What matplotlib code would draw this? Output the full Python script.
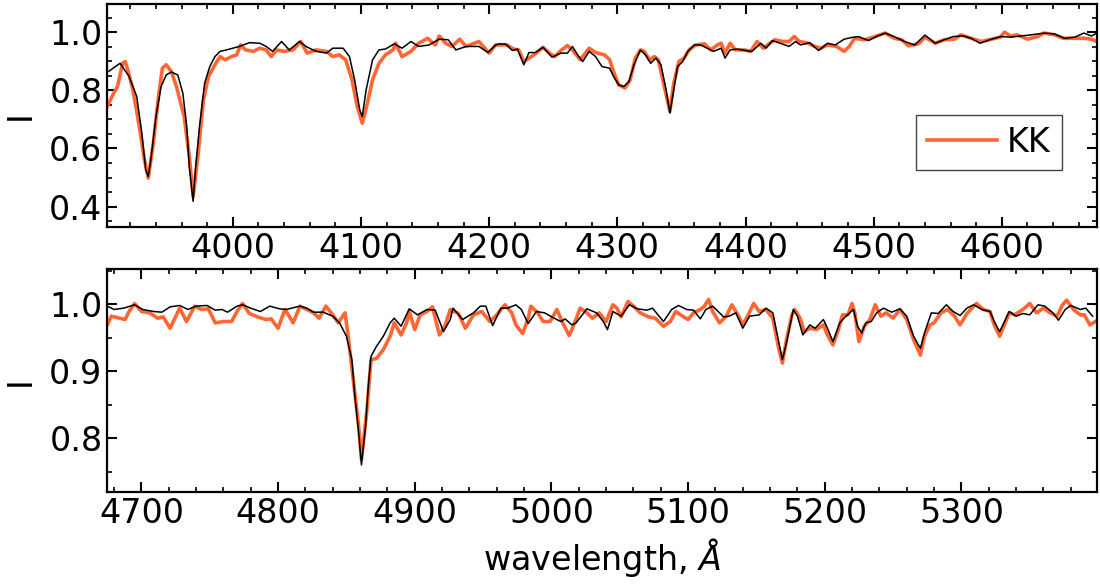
import numpy as np
import matplotlib
matplotlib.use("Agg")
import matplotlib.pyplot as plt
from matplotlib.ticker import MultipleLocator

# ---------------- data ----------------
# upper panel: model (black)
model_wl_1 = [3903, 3912, 3919, 3925, 3929, 3932, 3934, 3936, 3940, 3944, 3948, 3952, 3957, 3961,
              3964, 3966, 3969, 3971, 3974, 3978, 3982, 3986, 3990, 3995, 4000, 4005, 4013, 4021,
              4026, 4031, 4038, 4044, 4052, 4057, 4065, 4073, 4078, 4086, 4091, 4095, 4099, 4101,
              4104, 4109, 4114, 4119, 4126, 4132, 4139, 4145, 4153, 4161, 4168, 4174, 4182, 4192,
              4199, 4205, 4208, 4213, 4218, 4222, 4227, 4231, 4236, 4242, 4245, 4249, 4256, 4261,
              4265, 4269, 4273, 4278, 4283, 4288, 4294, 4297, 4301, 4305, 4309, 4313, 4318, 4322,
              4326, 4330, 4334, 4338, 4341, 4344, 4347, 4351, 4355, 4360, 4365, 4370, 4375, 4381,
              4384, 4388, 4393, 4400, 4405, 4412, 4416, 4421, 4427, 4434, 4439, 4443, 4450, 4457,
              4464, 4470, 4477, 4483, 4488, 4496, 4503, 4509, 4516, 4524, 4532, 4540, 4548, 4555,
              4562, 4570, 4576, 4583, 4592, 4599, 4607, 4615, 4623, 4633, 4641, 4649, 4657, 4664,
              4670, 4674]
model_fl_1 = [0.865, 0.893, 0.848, 0.779, 0.653, 0.527, 0.504, 0.561, 0.710, 0.813, 0.853, 0.863, 0.853, 0.790,
              0.676, 0.538, 0.418, 0.538, 0.676, 0.825, 0.882, 0.916, 0.934, 0.939, 0.945, 0.951, 0.964, 0.962,
              0.951, 0.934, 0.968, 0.939, 0.968, 0.951, 0.934, 0.928, 0.945, 0.945, 0.916, 0.836, 0.733, 0.710,
              0.802, 0.905, 0.939, 0.942, 0.960, 0.945, 0.968, 0.951, 0.956, 0.976, 0.974, 0.939, 0.951, 0.951,
              0.930, 0.956, 0.960, 0.959, 0.937, 0.942, 0.888, 0.930, 0.930, 0.948, 0.934, 0.914, 0.928, 0.928,
              0.951, 0.922, 0.899, 0.934, 0.916, 0.882, 0.876, 0.848, 0.819, 0.813, 0.830, 0.888, 0.939, 0.922,
              0.893, 0.911, 0.888, 0.802, 0.722, 0.802, 0.882, 0.899, 0.934, 0.956, 0.956, 0.945, 0.934, 0.945,
              0.911, 0.939, 0.942, 0.937, 0.934, 0.962, 0.945, 0.971, 0.962, 0.951, 0.968, 0.956, 0.964, 0.937,
              0.962, 0.956, 0.976, 0.982, 0.985, 0.971, 0.987, 0.997, 0.985, 0.968, 0.956, 0.990, 0.962, 0.974,
              0.985, 0.987, 0.979, 0.962, 0.976, 0.985, 0.983, 0.987, 0.991, 0.997, 0.994, 0.979, 0.983, 0.997,
              0.987, 0.997]

# upper panel: KK (orange)
kk_wl_1 = [3902, 3907, 3910, 3914, 3916, 3918, 3922, 3927, 3931, 3934, 3938, 3942, 3945, 3948, 3952,
           3956, 3958, 3962, 3966, 3969, 3973, 3977, 3981, 3986, 3990, 3994, 3999, 4003, 4006, 4010,
           4016, 4021, 4026, 4030, 4034, 4040, 4047, 4053, 4058, 4065, 4073, 4078, 4083, 4088, 4093,
           4097, 4101, 4105, 4109, 4114, 4119, 4125, 4127, 4132, 4139, 4145, 4152, 4158, 4161, 4166,
           4171, 4177, 4182, 4192, 4200, 4205, 4208, 4214, 4219, 4223, 4227, 4231, 4235, 4242, 4247,
           4251, 4256, 4261, 4265, 4271, 4278, 4283, 4290, 4294, 4297, 4301, 4306, 4310, 4314, 4318,
           4321, 4325, 4329, 4332, 4336, 4341, 4344, 4348, 4352, 4356, 4361, 4368, 4373, 4378, 4381,
           4384, 4388, 4392, 4399, 4404, 4409, 4414, 4419, 4423, 4429, 4434, 4438, 4442, 4449, 4454,
           4459, 4464, 4471, 4477, 4481, 4485, 4493, 4501, 4509, 4516, 4522, 4527, 4535, 4540, 4548,
           4555, 4563, 4568, 4576, 4584, 4592, 4599, 4602, 4607, 4612, 4620, 4628, 4633, 4641, 4648,
           4657, 4664, 4670, 4674]
kk_fl_1 = [0.745, 0.790, 0.813, 0.893, 0.899, 0.871, 0.802, 0.676, 0.561, 0.498, 0.619, 0.779, 0.876, 0.888, 0.865,
           0.813, 0.779, 0.710, 0.573, 0.435, 0.584, 0.767, 0.848, 0.888, 0.916, 0.905, 0.916, 0.922, 0.956, 0.939,
           0.934, 0.945, 0.939, 0.916, 0.939, 0.934, 0.939, 0.968, 0.928, 0.939, 0.934, 0.916, 0.922, 0.905, 0.836,
           0.745, 0.687, 0.756, 0.836, 0.893, 0.922, 0.939, 0.962, 0.916, 0.934, 0.962, 0.979, 0.956, 0.987, 0.962,
           0.951, 0.976, 0.951, 0.968, 0.928, 0.956, 0.956, 0.956, 0.942, 0.939, 0.899, 0.911, 0.922, 0.948, 0.928,
           0.916, 0.937, 0.954, 0.939, 0.905, 0.945, 0.930, 0.922, 0.905, 0.865, 0.819, 0.808, 0.836, 0.911, 0.939,
           0.934, 0.905, 0.916, 0.905, 0.825, 0.727, 0.825, 0.899, 0.911, 0.939, 0.956, 0.960, 0.939, 0.956, 0.962,
           0.928, 0.962, 0.939, 0.939, 0.934, 0.968, 0.945, 0.962, 0.974, 0.968, 0.968, 0.985, 0.968, 0.962, 0.951,
           0.945, 0.956, 0.951, 0.934, 0.951, 0.979, 0.974, 0.985, 0.997, 0.979, 0.974, 0.953, 0.960, 0.983, 0.962,
           0.974, 0.976, 0.991, 0.979, 0.968, 0.976, 0.983, 1.000, 0.987, 0.991, 0.976, 0.985, 0.997, 0.991, 0.979,
           0.979, 0.979, 0.976, 0.968]

# lower panel: model (black)
model_wl_2 = [4675, 4680, 4687, 4695, 4701, 4709, 4715, 4721, 4728, 4734, 4740, 4748, 4754, 4759, 4763,
              4770, 4774, 4780, 4787, 4794, 4801, 4806, 4816, 4821, 4826, 4833, 4840, 4845, 4850, 4854,
              4856, 4859, 4861, 4864, 4866, 4868, 4872, 4877, 4882, 4885, 4890, 4896, 4902, 4909, 4915,
              4921, 4926, 4928, 4935, 4943, 4948, 4952, 4957, 4963, 4968, 4974, 4978, 4983, 4989, 4995,
              5002, 5007, 5010, 5015, 5018, 5026, 5033, 5038, 5041, 5045, 5051, 5057, 5063, 5070, 5074,
              5082, 5088, 5093, 5099, 5104, 5109, 5113, 5118, 5126, 5130, 5135, 5140, 5145, 5152, 5157,
              5162, 5166, 5169, 5172, 5177, 5180, 5184, 5189, 5193, 5199, 5202, 5206, 5211, 5215, 5221,
              5224, 5227, 5230, 5234, 5238, 5243, 5249, 5255, 5260, 5265, 5270, 5273, 5278, 5283, 5289,
              5294, 5299, 5304, 5309, 5315, 5321, 5324, 5328, 5331, 5335, 5340, 5345, 5350, 5356, 5361,
              5367, 5371, 5376, 5380, 5387, 5391, 5396]
model_fl_2 = [0.997, 0.992, 0.994, 0.999, 0.992, 0.989, 0.988, 0.996, 0.998, 0.992, 0.997, 0.998, 0.991, 0.992, 0.988,
              0.997, 0.999, 0.994, 0.989, 0.997, 0.993, 0.992, 0.997, 0.994, 0.988, 0.988, 0.982, 0.972, 0.952, 0.917,
              0.867, 0.807, 0.760, 0.817, 0.877, 0.922, 0.937, 0.952, 0.972, 0.979, 0.967, 0.993, 0.984, 0.992, 0.991,
              0.959, 0.977, 0.994, 0.977, 0.987, 0.997, 0.997, 0.968, 0.994, 0.994, 0.999, 0.992, 0.971, 0.989, 0.987,
              0.979, 0.974, 0.978, 0.969, 0.972, 0.993, 0.987, 0.974, 0.962, 0.989, 0.982, 0.999, 0.993, 0.991, 0.994,
              0.974, 0.992, 0.998, 0.992, 0.991, 0.978, 0.992, 0.997, 0.981, 0.982, 0.987, 0.964, 0.982, 0.984, 0.994,
              0.987, 0.947, 0.917, 0.942, 0.992, 0.982, 0.954, 0.969, 0.964, 0.977, 0.964, 0.944, 0.972, 0.981, 0.992,
              0.967, 0.957, 0.972, 0.974, 0.987, 0.994, 0.988, 0.993, 0.982, 0.952, 0.934, 0.957, 0.987, 0.986, 0.999,
              0.989, 0.983, 0.994, 0.999, 0.992, 0.989, 0.974, 0.959, 0.972, 0.989, 0.982, 0.986, 0.984, 0.999, 0.997,
              0.987, 0.976, 0.992, 0.998, 0.992, 0.994, 0.982]

# lower panel: KK (orange)
kk_wl_2 = [4675, 4678, 4684, 4688, 4691, 4695, 4700, 4706, 4712, 4716, 4721, 4724, 4728, 4733, 4739,
           4744, 4749, 4754, 4760, 4766, 4770, 4774, 4779, 4785, 4791, 4795, 4800, 4805, 4809, 4811,
           4816, 4821, 4826, 4830, 4835, 4840, 4844, 4849, 4851, 4855, 4859, 4861, 4865, 4868, 4872,
           4877, 4882, 4885, 4890, 4894, 4896, 4900, 4904, 4909, 4913, 4918, 4922, 4926, 4932, 4937,
           4943, 4949, 4955, 4960, 4966, 4971, 4974, 4979, 4983, 4985, 4990, 4994, 4999, 5004, 5009,
           5013, 5017, 5021, 5026, 5030, 5035, 5040, 5045, 5048, 5051, 5056, 5060, 5065, 5071, 5076,
           5082, 5087, 5091, 5096, 5100, 5104, 5109, 5112, 5115, 5118, 5123, 5128, 5132, 5137, 5140,
           5144, 5148, 5152, 5157, 5162, 5166, 5169, 5172, 5176, 5178, 5182, 5185, 5189, 5194, 5199,
           5202, 5206, 5210, 5213, 5217, 5220, 5222, 5225, 5229, 5233, 5237, 5241, 5245, 5250, 5255,
           5260, 5265, 5270, 5273, 5277, 5280, 5285, 5290, 5295, 5299, 5304, 5311, 5316, 5321, 5324,
           5328, 5331, 5335, 5339, 5345, 5350, 5355, 5360, 5365, 5370, 5374, 5377, 5382, 5387, 5390,
           5394, 5398]
kk_fl_2 = [0.969, 0.982, 0.979, 0.977, 0.989, 1.001, 0.989, 0.987, 0.979, 0.981, 0.964, 0.977, 0.994, 0.974, 0.997,
           0.992, 0.993, 0.972, 0.974, 0.974, 0.989, 1.001, 0.986, 0.981, 0.977, 0.978, 0.964, 0.992, 0.979, 0.972,
           0.997, 0.992, 0.987, 0.979, 0.997, 0.984, 0.972, 0.987, 0.957, 0.887, 0.817, 0.768, 0.842, 0.917, 0.919,
           0.932, 0.952, 0.972, 0.954, 0.972, 0.989, 0.962, 0.984, 0.989, 0.996, 0.954, 0.967, 0.992, 0.986, 0.964,
           0.984, 0.989, 0.974, 0.984, 0.999, 0.987, 0.969, 0.956, 0.979, 0.997, 0.987, 0.974, 0.974, 0.992, 0.969,
           0.953, 0.972, 0.994, 0.987, 0.979, 0.987, 0.974, 0.999, 0.994, 0.981, 1.004, 0.997, 0.987, 0.981, 0.979,
           0.967, 0.974, 0.989, 0.982, 0.977, 0.987, 0.992, 0.997, 1.007, 0.989, 0.972, 0.982, 0.999, 0.982, 0.969,
           0.984, 1.001, 0.989, 0.992, 0.979, 0.937, 0.912, 0.947, 0.984, 0.992, 0.979, 0.959, 0.964, 0.962, 0.969,
           0.954, 0.939, 0.962, 0.984, 0.984, 1.001, 0.987, 0.944, 0.967, 0.977, 0.999, 0.982, 0.987, 0.979, 0.992,
           0.977, 0.947, 0.924, 0.952, 0.969, 0.972, 0.987, 0.992, 0.982, 0.969, 0.986, 1.001, 0.992, 0.989, 0.969,
           0.952, 0.967, 0.987, 0.984, 0.992, 1.001, 0.987, 0.994, 0.987, 0.982, 0.999, 1.006, 0.992, 0.984, 0.984,
           0.969, 0.974]

legend_label = "KK"
xlabel_text = r"wavelength, $\AA$"
ylabel_text = "I"

# ---------------- style ----------------
ORANGE = "#ff6633"
FS = 24

plt.rcParams["font.family"] = ["DejaVu Sans"]
plt.rcParams["mathtext.fontset"] = "dejavusans"

fig = plt.figure(figsize=(11.0, 5.87), dpi=100)
ax1 = fig.add_axes([0.0975, 0.6138, 0.8995, 0.3794])
ax2 = fig.add_axes([0.0975, 0.1613, 0.8995, 0.3799])

def style(ax):
    ax.tick_params(which="both", direction="in", top=True, right=True, labelsize=FS)
    ax.tick_params(which="major", length=7, width=1.5)
    ax.tick_params(which="minor", length=3.5, width=1.2)
    for s in ax.spines.values():
        s.set_linewidth(1.6)
    ax.xaxis.set_major_locator(MultipleLocator(100))
    ax.xaxis.set_minor_locator(MultipleLocator(20))
    ax.set_ylabel(ylabel_text, fontsize=FS, labelpad=9)

ax1.plot(kk_wl_1, kk_fl_1, color=ORANGE, lw=2.6, label=legend_label, zorder=2)
ax1.plot(model_wl_1, model_fl_1, color="black", lw=1.1, zorder=3)
ax1.set_xlim(3902, 4674)
ax1.set_ylim(0.331, 1.097)
ax1.yaxis.set_major_locator(MultipleLocator(0.2))
ax1.yaxis.set_minor_locator(MultipleLocator(0.05))
style(ax1)
leg = ax1.legend(loc="upper right", bbox_to_anchor=(0.9645, 0.502), fontsize=FS,
                 fancybox=False, framealpha=1, edgecolor="#444444", handlelength=2.1,
                 handletextpad=0.3, borderpad=0.33, borderaxespad=0)
leg.get_frame().set_linewidth(1.0)

ax2.plot(kk_wl_2, kk_fl_2, color=ORANGE, lw=2.6, zorder=2)
ax2.plot(model_wl_2, model_fl_2, color="black", lw=1.1, zorder=3)
ax2.set_xlim(4675, 5399)
ax2.set_ylim(0.719, 1.052)
ax2.yaxis.set_major_locator(MultipleLocator(0.1))
ax2.yaxis.set_minor_locator(MultipleLocator(0.05))
style(ax2)
ax2.set_xlabel(xlabel_text, fontsize=FS)

fig.align_ylabels([ax1, ax2])
fig.savefig("out.png", dpi=100)
